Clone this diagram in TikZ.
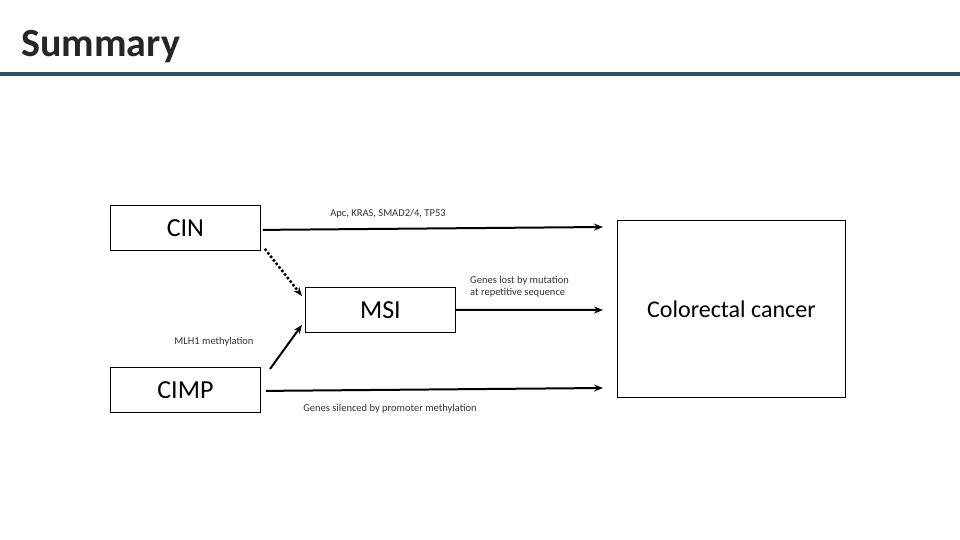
\documentclass[tikz,border=0pt]{standalone}
\usepackage{fontspec}
\setmainfont{Carlito}
\usetikzlibrary{arrows.meta}
\definecolor{bar}{HTML}{2E5068}
\begin{document}
\begin{tikzpicture}[x=1pt,y=-1pt,
  box/.style={draw,line width=0.8pt,anchor=north west,inner sep=0,font=\fontsize{26}{28}\selectfont},
  arr/.style={line width=2pt,-{Stealth[length=9pt,width=7pt]}},
  lab/.style={font=\fontsize{10.5}{12}\selectfont,text=black!80,inner sep=0}]
\useasboundingbox (0,0) rectangle (960,540);
\node[anchor=base west,font=\bfseries\fontsize{40}{44}\selectfont,text=black!85] (t) at (18,57) {Summary};
\draw[bar,line width=4pt] (0,74) -- (960,74);
\node[box,minimum width=150pt,minimum height=45pt] (cin) at (110,205) {CIN};
\node[box,minimum width=150pt,minimum height=45pt] (msi) at (305,287) {MSI};
\node[box,minimum width=150pt,minimum height=45pt] (cimp) at (110,367) {CIMP};
\node[box,minimum width=228pt,minimum height=177pt,font=\fontsize{24}{26}\selectfont] (crc) at (617,220) {Colorectal cancer};
\coordinate (e1) at (603,227);
\coordinate (e2) at (603,310);
\coordinate (e3) at (603,388);
\coordinate (m0) at (270,369);
\draw[arr] (cin.east) ++(2,2) coordinate (s1) (s1) -- (e1);
\draw[arr] (msi.east) -- (e2);
\draw[arr] ([xshift=5pt,yshift=-1pt]cimp.east) -- (e3);
\draw[line width=2.5pt,dotted,-{Stealth[length=9pt,width=7pt]}] ([xshift=4pt,yshift=2pt]cin.south east) -- ([xshift=-3pt,yshift=-9pt]msi.north west);
\draw[arr] (m0) -- ([xshift=-3pt,yshift=8pt]msi.south west);
\node[lab] (l1) at (388,214) {Apc, KRAS, SMAD2/4, TP53};
\node[lab,align=left,anchor=west] (l2) at (470,287) {Genes lost by mutation\\at repetitive sequence};
\node[lab] (l3) at (214,342) {MLH1 methylation};
\node[lab] (l4) at (390,409) {Genes silenced by promoter methylation};
\end{tikzpicture}
\end{document}
